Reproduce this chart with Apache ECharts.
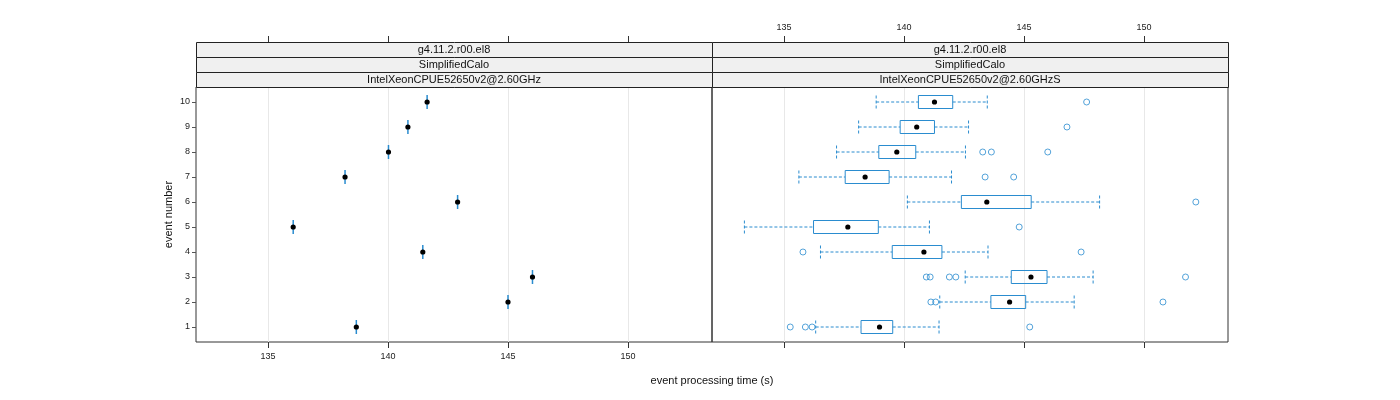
<!DOCTYPE html>
<html><head><meta charset="utf-8">
<script src="https://cdn.jsdelivr.net/npm/echarts@6/dist/echarts.min.js"></script>
<style>html,body{margin:0;padding:0;background:#fff}#c{width:1400px;height:400px}</style>
</head><body><div id="c"></div>
<script>
// ---- data ----
const events = [1,2,3,4,5,6,7,8,9,10];
const xTicks = [135,140,145,150];
const yTicks = [1,2,3,4,5,6,7,8,9,10];
const stripLeft = ['g4.11.2.r00.el8','SimplifiedCalo','IntelXeonCPUE52650v2@2.60GHz'];
const stripRight = ['g4.11.2.r00.el8','SimplifiedCalo','IntelXeonCPUE52650v2@2.60GHzS'];
// left panel: single measurement per event
const leftValues = [138.68,145.0,146.02,141.45,136.05,142.9,138.21,140.02,140.83,141.63];
// right panel: boxplot stats per event [whiskerLow, q1, median, q3, whiskerHigh]
const whiskerLow  = [136.32,141.49,142.55,136.52,133.35,140.14,135.62,137.19,138.11,138.84];
const q1          = [138.21,143.62,144.47,139.51,136.23,142.39,137.55,138.95,139.84,140.60];
const medians     = [138.98,144.40,145.29,140.83,137.66,143.45,138.38,139.70,140.53,141.27];
const q3          = [139.53,145.07,145.96,141.58,138.93,145.30,139.38,140.49,141.27,142.03];
const whiskerHigh = [141.46,147.09,147.88,143.50,141.06,148.15,141.98,142.56,142.69,143.47];
const outliers = [
  [135.26,135.89,136.17,145.24],
  [141.12,141.32,150.79],
  [140.93,141.09,141.89,142.16,151.73],
  [135.79,147.38],
  [144.80],
  [152.16],
  [143.38,144.57],
  [143.28,143.64,145.99],
  [146.79],
  [147.61]
];

const BLUE = '#2a8ccf';
const FONT = 'Liberation Sans, Arial, sans-serif';
const XMIN = 132, XMAX = 153.5, YMIN = 0.4, YMAX = 10.6;

const chart = echarts.init(document.getElementById('c'), null, {renderer:'canvas'});

function xAxisDef(gi, pos, labels, offset) {
  return {
    type:'value', gridIndex:gi, position:pos, min:XMIN, max:XMAX, offset:offset||0,
    axisLine:{show:false},
    axisTick:{show:true, customValues:xTicks, length:6, lineStyle:{color:'#333'}},
    axisLabel:{show:labels, customValues:xTicks, fontSize:9, color:'#222', fontFamily:FONT, margin:10},
    splitLine:{show:false}
  };
}

const leftData = events.map((e,i)=>[leftValues[i], e]);
const boxData = events.map((e,i)=>[e, whiskerLow[i], q1[i], medians[i], q3[i], whiskerHigh[i]]);
const outData = [];
outliers.forEach((arr,i)=>arr.forEach(v=>outData.push([v, events[i]])));

// gridlines as separate custom series so they sit at the tick values
function gridSeries(xi, yi) {
  return {
    type:'custom', xAxisIndex:xi, yAxisIndex:yi, silent:true, z:1,
    data: xTicks.map(v=>[v]),
    renderItem:(p, api)=>{
      const a = api.coord([api.value(0), YMIN]);
      const b = api.coord([api.value(0), YMAX]);
      return {type:'line', shape:{x1:a[0]+0.5,y1:a[1],x2:b[0]+0.5,y2:b[1]}, style:{stroke:'#e8e8e8', lineWidth:1}};
    }
  };
}

function stripGraphics(left, width, labels) {
  const g = [];
  const tops = [42, 57, 72];
  const h = 15;
  labels.forEach((t,k)=>{
    g.push({type:'rect', left:left, top:tops[k], shape:{width:width, height:h},
      style:{fill:'#f0f0f0', stroke:'#222', lineWidth:1}, z:10});
    g.push({type:'text', x:left+width/2, y:tops[k]+h/2+0.5, z:11,
      style:{text:t, fill:'#111', font:'11px '+FONT, textAlign:'center', textVerticalAlign:'middle'}});
  });
  return g;
}

const option = {
  animation:false,
  grid:[
    {left:196, top:87, width:516, height:255, show:true, borderColor:'#333', borderWidth:1, backgroundColor:'transparent'},
    {left:712, top:87, width:516, height:255, show:true, borderColor:'#333', borderWidth:1, backgroundColor:'transparent'}
  ],
  xAxis:[
    xAxisDef(0,'bottom',true,0),
    xAxisDef(0,'top',false,45),
    xAxisDef(1,'bottom',false,0),
    xAxisDef(1,'top',true,45)
  ],
  yAxis:[
    {type:'value', gridIndex:0, min:YMIN, max:YMAX, position:'left',
     axisLine:{show:false},
     axisTick:{show:true, customValues:yTicks, length:4, lineStyle:{color:'#555'}},
     axisLabel:{show:true, customValues:yTicks, fontSize:9, color:'#222', fontFamily:FONT, margin:6},
     splitLine:{show:false},
     name:'event number', nameLocation:'middle', nameGap:22, nameRotate:90,
     nameTextStyle:{fontSize:11, color:'#111', fontFamily:FONT}},
    {type:'value', gridIndex:1, min:YMIN, max:YMAX, show:false}
  ],
  graphic:[
    ...stripGraphics(196, 516, stripLeft),
    ...stripGraphics(712, 516, stripRight),
    {type:'text', x:712, y:381, style:{text:'event processing time (s)', fill:'#111', font:'11px '+FONT, textAlign:'center', textVerticalAlign:'middle'}}
  ],
  series:[
    gridSeries(0,0),
    gridSeries(2,1),
    {
      type:'custom', xAxisIndex:0, yAxisIndex:0, z:5, data:leftData,
      renderItem:(p, api)=>{
        const c = api.coord([api.value(0), api.value(1)]);
        return {type:'group', children:[
          {type:'line', shape:{x1:c[0],y1:c[1]-7,x2:c[0],y2:c[1]+7}, style:{stroke:BLUE, lineWidth:1.5}},
          {type:'circle', shape:{cx:c[0], cy:c[1], r:2.6}, style:{fill:'#000'}}
        ]};
      }
    },
    {
      type:'custom', xAxisIndex:2, yAxisIndex:1, z:5, data:boxData,
      renderItem:(p, api)=>{
        const y = api.value(0);
        const wl = api.coord([api.value(1), y]);
        const b1 = api.coord([api.value(2), y]);
        const md = api.coord([api.value(3), y]);
        const b3 = api.coord([api.value(4), y]);
        const wh = api.coord([api.value(5), y]);
        const hh = 6.5;
        const dash = {stroke:BLUE, lineWidth:1, lineDash:[3,2]};
        return {type:'group', children:[
          {type:'line', shape:{x1:wl[0],y1:wl[1],x2:b1[0],y2:b1[1]}, style:dash},
          {type:'line', shape:{x1:b3[0],y1:b3[1],x2:wh[0],y2:wh[1]}, style:dash},
          {type:'line', shape:{x1:wl[0],y1:wl[1]-hh,x2:wl[0],y2:wl[1]+hh}, style:dash},
          {type:'line', shape:{x1:wh[0],y1:wh[1]-hh,x2:wh[0],y2:wh[1]+hh}, style:dash},
          {type:'rect', shape:{x:b1[0], y:b1[1]-hh, width:b3[0]-b1[0], height:2*hh}, style:{fill:'transparent', stroke:BLUE, lineWidth:1}},
          {type:'circle', shape:{cx:md[0], cy:md[1], r:2.6}, style:{fill:'#000'}}
        ]};
      }
    },
    {
      type:'scatter', xAxisIndex:2, yAxisIndex:1, z:5, data:outData,
      symbol:'circle', symbolSize:6,
      itemStyle:{color:'transparent', borderColor:BLUE, borderWidth:1}
    }
  ]
};
chart.setOption(option);
</script>
</body></html>
